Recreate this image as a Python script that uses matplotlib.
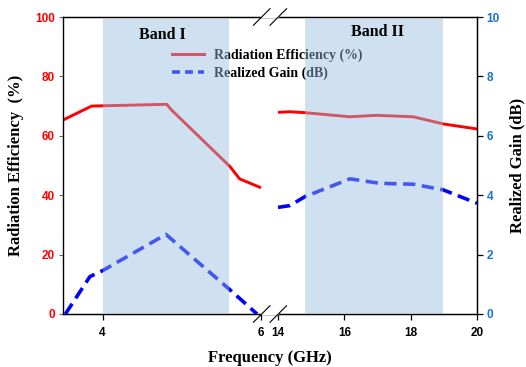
import numpy as np
import matplotlib
matplotlib.use("Agg")
import matplotlib.pyplot as plt
from matplotlib.lines import Line2D

# ---- data ----
eff_freq_low = [3.5, 3.86, 4.0, 4.81, 4.87, 5.61, 5.73, 6.0]
eff_low = [65.3, 70.0, 70.1, 70.6, 68.7, 49.6, 45.5, 42.5]
eff_freq_high = [14.0, 14.36, 14.8, 16.17, 16.97, 18.08, 18.98, 20.0]
eff_high = [67.9, 68.1, 67.8, 66.4, 66.9, 66.4, 64.0, 62.3]

gain_freq_low = [3.53, 3.84, 4.0, 4.80, 5.61, 5.95]
gain_low = [0.0, 1.26, 1.46, 2.68, 0.81, 0.0]
gain_freq_high = [14.0, 14.36, 14.81, 16.17, 17.07, 18.08, 18.98, 20.0]
gain_high = [3.59, 3.65, 3.95, 4.55, 4.40, 4.37, 4.18, 3.73]

bands = [(4.0, 5.6), (14.8, 18.98)]
band_labels = ["Band I", "Band II"]
xticks = [4, 6, 14, 16, 18, 20]
eff_ticks = [0, 20, 40, 60, 80, 100]
gain_ticks = [0, 2, 4, 6, 8, 10]

# ---- broken-axis scale ----
L0, L1, R0, R1 = 3.5, 6.0, 14.0, 20.0
kL, gap, kR = 79.2, 17.0, 33.17
wL = (L1 - L0) * kL


def fwd(x):
    x = np.asarray(x, dtype=float)
    return np.where(x <= L1, (x - L0) * kL,
                    np.where(x >= R0, wL + gap + (x - R0) * kR,
                             wL + (x - L1) / (R0 - L1) * gap))


def inv(u):
    u = np.asarray(u, dtype=float)
    return np.where(u <= wL, u / kL + L0,
                    np.where(u >= wL + gap, (u - wL - gap) / kR + R0,
                             L1 + (u - wL) / gap * (R0 - L1)))


serif = ["Liberation Serif", "DejaVu Serif"]
sans = ["Liberation Sans", "DejaVu Sans"]

fig = plt.figure(figsize=(5.26, 3.67), dpi=100)
ax = fig.add_axes([63 / 526, 1 - 314 / 367, 414 / 526, 297 / 367])
ax.set_xscale("function", functions=(fwd, inv))
ax.set_xlim(L0, R1)
ax.set_ylim(0, 100)

ax.plot(eff_freq_low, eff_low, color="#ff0000", lw=2.1, solid_capstyle="butt")
ax.plot(eff_freq_high, eff_high, color="#ff0000", lw=2.1, solid_capstyle="butt")

ax2 = ax.twinx()
ax2.set_ylim(0, 10)
dash = (3.4, 1.8)
ax2.plot(gain_freq_low, gain_low, color="#0000ff", lw=2.6, dashes=dash, clip_on=False)
ax2.plot(gain_freq_high, gain_high, color="#0000ff", lw=2.6, dashes=dash)

for (a, b) in bands:
    ax2.axvspan(a, b, ymin=0, ymax=0.993, facecolor="#98bfe2", alpha=0.46,
                lw=0, zorder=10)

# band labels
ax2.text(4.76, 9.4, band_labels[0], ha="center", va="center", fontsize=11.5,
         fontweight="bold", family=serif, zorder=11)
ax2.text(17.0, 9.5, band_labels[1], ha="center", va="center", fontsize=11.5,
         fontweight="bold", family=serif, zorder=11)

handles = [Line2D([], [], color="#ff0000", lw=2.2),
           Line2D([], [], color="#0000ff", lw=2.6, dashes=(2.2, 1.4))]
leg = ax2.legend(handles, ["Radiation Efficiency (%)", "Realized Gain (dB)"],
                 loc="upper left", bbox_to_anchor=(0.25, 0.912), frameon=False,
                 prop={"family": serif, "weight": "bold", "size": 10},
                 handlelength=2.3, handletextpad=0.75, labelspacing=0.3,
                 borderaxespad=0)
leg.set_zorder(5)

# ticks
ax.set_xticks(xticks)
ax.set_xticklabels([str(t) for t in xticks])
ax.xaxis.set_minor_locator(matplotlib.ticker.NullLocator())
ax.set_yticks(eff_ticks)
ax2.set_yticks(gain_ticks)
ax.tick_params(axis="x", direction="out", length=4, width=0.9, pad=5)
ax.tick_params(axis="y", direction="out", length=3, width=0.8, color="#666666", pad=3)
ax2.tick_params(axis="y", direction="out", length=4, width=0.9, pad=3)
for lab in ax.get_xticklabels():
    lab.set_fontfamily(sans); lab.set_fontweight("bold"); lab.set_fontsize(8.5)
for lab in ax.get_yticklabels():
    lab.set_fontfamily(sans); lab.set_fontweight("bold"); lab.set_fontsize(8.5)
    lab.set_color("#ff0000")
for lab in ax2.get_yticklabels():
    lab.set_fontfamily(sans); lab.set_fontweight("bold"); lab.set_fontsize(8.5)
    lab.set_color("#1874cd")

for a in (ax, ax2):
    for s in a.spines.values():
        s.set_linewidth(0.9)
ax.spines["left"].set_color("#555555")

ax.set_xlabel("Frequency (GHz)", fontsize=12, fontweight="bold", family=serif, labelpad=8)
ax.set_ylabel("Radiation Efficiency  (%)", fontsize=12, fontweight="bold", family=serif, labelpad=8)
ax2.set_ylabel("Realized Gain (dB)", fontsize=12, fontweight="bold", family=serif, labelpad=7)

# break marks
W, H = 414.0, 297.0
x1 = (261.7 - 63) / W
x2 = (278.3 - 63) / W
dx, dy = 8.3 / W, 8.3 / H
for y in (0.0, 1.0):
    ax2.plot([x1, x2], [y, y], transform=ax2.transAxes, color="white", lw=1.6,
             clip_on=False, zorder=20)
    for xc in (x1, x2):
        ax2.plot([xc - dx, xc + dx], [y - dy, y + dy], transform=ax2.transAxes,
                 color="black", lw=0.8, clip_on=False, zorder=21)

fig.savefig("out.png", dpi=100)
